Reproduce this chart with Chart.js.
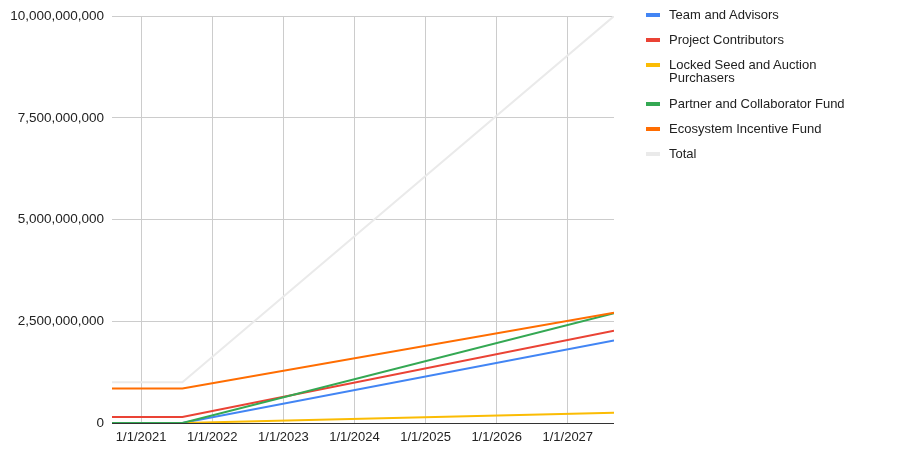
<!DOCTYPE html>
<html>
<head>
<meta charset="utf-8">
<script src="https://cdn.jsdelivr.net/npm/chart.js@4.4.1/dist/chart.umd.min.js"></script>
<style>
  body { margin:0; background:#fff; font-family: Arial, "Liberation Sans", sans-serif; }
  #wrap { position:relative; width:900px; height:450px; }
  #legend { position:absolute; left:646px; top:8px; font-size:13px; color:#222; }
  .item { position:relative; padding-left:23px; line-height:13px; margin-bottom:12px; }
  .item.two { margin-bottom:13px; }
  .item .sw { position:absolute; left:0; top:5px; width:14px; height:4px; }
</style>
</head>
<body>
<div id="wrap">
  <canvas id="lineChart" width="900" height="450"></canvas>
  <div id="legend"></div>
</div>
<script>
// x values are decimal years
var dates = [2020.59, 2021.58, 2027.65];
var seriesNames = ["Team and Advisors", "Project Contributors", "Locked Seed and Auction Purchasers",
  "Partner and Collaborator Fund", "Ecosystem Incentive Fund", "Total"];
var teamAdvisors = [0, 0, 2030000000];
var projectContributors = [150000000, 150000000, 2270000000];
var lockedSeed = [0, 0, 250000000];
var partnerFund = [0, 0, 2700000000];
var ecosystemFund = [850000000, 850000000, 2710000000];
var total = [1000000000, 1000000000, 10000000000];
var xTicks = [2021, 2022, 2023, 2024, 2025, 2026, 2027];
var yTicks = [0, 2500000000, 5000000000, 7500000000, 10000000000];

var colors = ['#4285f4', '#ea4335', '#fbbc04', '#34a853', '#ff6d01', '#eaeaea'];
var values = [teamAdvisors, projectContributors, lockedSeed, partnerFund, ecosystemFund, total];

var datasets = [];
for (let i = 0; i < values.length; i++) {
  datasets.push({
    label: seriesNames[i],
    data: values[i].map(function(v, j){ return {x: dates[j], y: v}; }),
    borderColor: colors[i],
    backgroundColor: colors[i],
    borderWidth: 2,
    pointRadius: 0,
    tension: 0,
    order: values.length - i
  });
}

var ctxL = document.getElementById("lineChart").getContext('2d');
var myLineChart = new Chart(ctxL, {
  type: 'line',
  data: { datasets: datasets },
  options: {
    responsive: false,
    animation: false,
    layout: { padding: { top: 14, right: 286, left: 0, bottom: 0 } },
    plugins: { legend: { display: false }, tooltip: { enabled: false } },
    scales: {
      x: {
        type: 'linear',
        min: dates[0],
        max: dates[dates.length - 1],
        afterBuildTicks: function(scale){ scale.ticks = xTicks.map(function(v){ return {value: v}; }); },
        afterFit: function(scale){ scale.height = 27; },
        ticks: {
          color: '#222',
          font: { family: 'Arial, "Liberation Sans"', size: 13 },
          maxRotation: 0,
          padding: 7,
          callback: function(v){ return '1/1/' + v; }
        },
        grid: { color: '#cccccc', drawTicks: false },
        border: { display: false }
      },
      y: {
        min: 0,
        max: 10000000000,
        afterBuildTicks: function(scale){ scale.ticks = yTicks.map(function(v){ return {value: v}; }); },
        afterFit: function(scale){ scale.width = 112; },
        ticks: {
          color: '#222',
          font: { family: 'Arial, "Liberation Sans"', size: 13.5 },
          padding: 8,
          callback: function(v){ return v.toLocaleString('en-US'); }
        },
        grid: {
          drawTicks: false,
          color: function(c){ return c.tick && c.tick.value === 0 ? '#333333' : '#cccccc'; }
        },
        border: { display: false }
      }
    }
  }
});

// legend
var legend = document.getElementById('legend');
var legendText = ["Team and Advisors", "Project Contributors", "Locked Seed and Auction<br>Purchasers",
  "Partner and Collaborator Fund", "Ecosystem Incentive Fund", "Total"];
legendText.forEach(function(t, i){
  var d = document.createElement('div');
  d.className = t.indexOf('<br>') >= 0 ? 'item two' : 'item';
  d.innerHTML = '<span class="sw" style="background:' + colors[i] + '"></span>' + t;
  legend.appendChild(d);
});
</script>
</body>
</html>
